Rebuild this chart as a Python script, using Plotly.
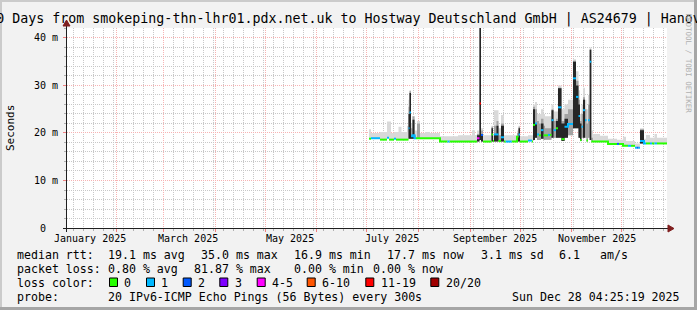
import plotly.graph_objects as go

# ---------------- data ----------------
title_text = "360 Days from smokeping-thn-lhr01.pdx.net.uk to Hostway Deutschland GmbH | AS24679 | Hanover"
x_start = "2025-01-02 04:25:19"
x_end = "2025-12-28 04:25:19"

times = [
    "2025-07-02 09:00", "2025-07-03 14:00", "2025-07-08 23:30", "2025-07-13 04:20", "2025-07-14 09:00",
    "2025-07-15 14:00", "2025-07-17 09:00", "2025-07-18 14:00", "2025-07-20 02:00", "2025-07-21 21:00",
    "2025-07-25 04:20", "2025-07-26 02:00", "2025-07-26 16:20", "2025-07-27 14:00", "2025-07-28 11:30",
    "2025-07-29 16:20", "2025-07-30 14:00", "2025-07-31 04:20", "2025-08-01 23:30", "2025-08-04 23:30",
    "2025-08-07 23:30", "2025-08-13 23:30", "2025-08-18 11:30", "2025-08-19 16:20", "2025-08-24 18:40",
    "2025-09-02 04:20", "2025-09-03 23:30", "2025-09-05 04:20", "2025-09-06 16:20", "2025-09-07 14:00",
    "2025-09-08 18:40", "2025-09-13 21:00", "2025-09-14 18:40", "2025-09-15 09:00", "2025-09-16 21:00",
    "2025-09-18 02:00", "2025-09-19 14:00", "2025-09-21 09:00", "2025-09-22 09:40", "2025-09-26 00:00",
    "2025-09-29 04:20", "2025-09-30 02:00", "2025-09-30 23:30", "2025-10-05 18:40", "2025-10-08 04:20",
    "2025-10-08 18:40", "2025-10-09 23:30", "2025-10-11 04:20", "2025-10-12 09:00", "2025-10-13 14:00",
    "2025-10-15 02:00", "2025-10-15 23:30", "2025-10-17 18:40", "2025-10-18 23:30", "2025-10-19 21:00",
    "2025-10-21 02:00", "2025-10-22 14:00", "2025-10-23 18:40", "2025-10-25 21:00", "2025-10-27 16:20",
    "2025-10-29 18:40", "2025-11-01 18:40", "2025-11-03 14:00", "2025-11-05 02:00", "2025-11-05 23:30",
    "2025-11-06 21:00", "2025-11-07 18:40", "2025-11-08 23:30", "2025-11-09 21:00", "2025-11-10 18:40",
    "2025-11-11 19:10", "2025-11-12 18:10", "2025-11-13 18:40", "2025-11-17 23:30", "2025-11-22 18:40",
    "2025-11-28 04:20", "2025-11-29 09:00", "2025-12-01 18:40", "2025-12-03 14:00", "2025-12-04 18:40",
    "2025-12-06 14:00", "2025-12-08 23:30", "2025-12-10 04:20", "2025-12-11 02:00", "2025-12-11 23:30",
    "2025-12-14 09:00", "2025-12-15 14:00", "2025-12-17 23:30", "2025-12-19 04:20", "2025-12-20 16:20",
    "2025-12-22 04:20",
]
median_ms = [
    18.8, 18.9, 18.6, 19.0, 18.6, 18.6, 18.8, 18.6, 18.6, 18.6,
    18.6, 21.0, 24.3, 19.3, 19.5, 18.9, 18.9, 18.9, 18.9, 18.9,
    18.9, 18.2, 18.2, 18.2, 18.2, 18.2, 18.2, 18.9, 26.2, 19.6,
    18.2, 19.7, 18.3, 19.7, 19.7, 18.3, 19.1, 18.2, 18.2, 18.2,
    19.2, 19.7, 18.2, 18.4, 18.2, 21.7, 22.0, 19.7, 19.5, 20.6,
    19.5, 19.5, 19.6, 19.6, 22.7, 20.6, 21.0, 25.4, 18.7, 21.3,
    21.9, 31.5, 27.6, 23.6, 18.5, 21.3, 24.8, 22.7, 18.4, 22.7,
    35.0, 18.2, 18.2, 18.2, 17.7, 17.7, 17.7, 17.3, 17.3, 17.3,
    17.3, 16.9, 16.9, 16.9, 18.3, 17.8, 17.8, 17.8, 17.8, 17.8,
    17.8,
]
# loss category index: 0 -> "0", 1 -> "1", 2 -> "2", 3 -> "3", 4 -> "4-5", 5 -> "6-10", 6 -> "11-19", 7 -> "20/20"
loss_cat = [
    0, 1, 0, 1, 0, 0, 1, 0, 0, 0,
    0, 1, 1, 1, 1, 1, 0, 0, 0, 0,
    0, 0, 1, 0, 0, 0, 0, 4, 6, 2,
    0, 0, 0, 1, 1, 0, 1, 0, 1, 0,
    0, 1, 0, 1, 0, 0, 1, 1, 0, 1,
    0, 0, 1, 0, 1, 1, 0, 1, 0, 1,
    1, 1, 1, 1, 0, 1, 1, 1, 0, 1,
    1, 0, 0, 0, 0, 2, 0, 0, 0, 1,
    0, 1, 2, 1, 1, 1, 0, 1, 0, 1,
    0,
]
# lowest ping of the smoke column
smoke_low_ms = [
    18.8, 18.9, 18.6, 19.0, 18.6, 18.6, 18.8, 18.6, 18.6, 18.6,
    18.6, 18.8, 18.8, 18.8, 18.8, 18.8, 18.9, 18.9, 18.9, 18.9,
    18.9, 18.2, 18.2, 18.2, 18.2, 18.2, 18.2, 18.2, 18.5, 18.2,
    18.2, 18.2, 18.3, 18.2, 18.2, 18.3, 18.2, 18.2, 18.2, 18.2,
    18.2, 18.2, 18.2, 18.4, 18.2, 18.5, 19.0, 18.5, 18.5, 18.8,
    18.5, 18.6, 18.6, 18.6, 19.0, 19.0, 19.0, 19.0, 18.3, 19.0,
    19.5, 21.0, 21.0, 19.0, 18.3, 19.0, 19.0, 19.0, 18.2, 19.0,
    18.5, 18.2, 18.2, 18.2, 17.7, 17.7, 17.7, 17.3, 17.3, 17.3,
    17.3, 16.9, 16.9, 16.9, 17.8, 17.8, 17.8, 17.8, 17.8, 17.8,
    17.8,
]
# highest ping of the smoke column (light grey)
smoke_top_ms = [
    20.8, 20.0, 20.2, 22.4, 22.4, 20.0, 20.2, 20.2, 21.3, 20.2,
    21.5, 27.0, 29.0, 22.0, 23.5, 20.5, 20.5, 22.5, 20.0, 20.2,
    20.0, 19.3, 19.3, 19.3, 19.5, 20.6, 19.6, 20.5, 42.5, 21.0,
    19.5, 21.5, 19.5, 24.8, 24.8, 21.0, 23.8, 19.5, 19.5, 19.5,
    20.5, 21.5, 19.3, 19.5, 19.5, 26.0, 26.5, 24.0, 24.0, 25.0,
    24.0, 23.5, 23.5, 23.5, 26.0, 24.5, 24.5, 30.0, 25.0, 26.0,
    27.0, 35.5, 33.0, 29.0, 24.0, 26.0, 29.5, 27.0, 25.0, 28.0,
    38.0, 20.5, 19.8, 19.4, 18.8, 18.6, 18.6, 19.2, 18.3, 18.3,
    18.3, 17.8, 17.8, 17.8, 21.0, 18.8, 19.6, 19.0, 19.0, 19.8,
    19.0,
]
# top of the medium-grey part of the smoke column
smoke_mid_ms = [
    18.8, 18.9, 18.6, 19.0, 18.6, 18.6, 18.8, 18.6, 18.6, 18.6,
    18.6, 25.5, 28.8, 21.0, 23.5, 19.5, 18.9, 22.0, 18.9, 18.9,
    18.9, 18.2, 18.2, 18.2, 18.2, 18.2, 18.2, 19.8, 42.5, 20.5,
    18.2, 21.3, 18.3, 21.5, 22.5, 19.5, 22.0, 18.2, 18.2, 18.2,
    20.0, 21.3, 18.2, 18.4, 18.2, 25.5, 25.0, 22.5, 22.0, 23.0,
    21.5, 21.0, 21.0, 21.0, 25.0, 22.5, 23.0, 29.5, 22.5, 24.0,
    25.0, 35.2, 31.0, 27.0, 22.5, 24.0, 27.5, 25.0, 22.0, 26.0,
    37.6, 19.0, 18.2, 18.2, 17.7, 17.7, 17.7, 17.3, 17.3, 17.3,
    17.3, 16.9, 16.9, 16.9, 20.8, 17.8, 17.8, 17.8, 17.8, 17.8,
    17.8,
]
# top of the dense (black) part of the smoke column
smoke_dense_ms = [
    18.8, 18.9, 18.6, 19.0, 18.6, 18.6, 18.8, 18.6, 18.6, 18.6,
    18.6, 24.0, 28.4, 19.3, 22.8, 18.9, 18.9, 18.9, 18.9, 18.9,
    18.9, 18.2, 18.2, 18.2, 18.2, 18.2, 18.2, 19.5, 42.5, 19.6,
    18.2, 21.0, 18.3, 19.7, 21.5, 18.3, 21.5, 18.2, 18.2, 18.2,
    19.2, 21.0, 18.2, 18.4, 18.2, 25.0, 22.0, 18.5, 18.5, 22.0,
    18.5, 18.6, 18.6, 18.6, 24.8, 19.0, 22.5, 29.4, 22.0, 23.0,
    19.5, 35.0, 30.0, 26.0, 22.0, 19.0, 27.0, 19.0, 18.2, 19.0,
    37.5, 18.2, 18.2, 18.2, 17.7, 17.7, 17.7, 17.3, 17.3, 17.3,
    17.3, 16.9, 16.9, 16.9, 20.6, 17.8, 17.8, 17.8, 17.8, 17.8,
    17.8,
]

loss_colors = ["#26ff00", "#00b8ff", "#0059ff", "#7e00ff", "#ff00ff", "#ff5500", "#ff0000", "#a10000"]
loss_labels = ["0", "1", "2", "3", "4-5", "6-10", "11-19", "20/20"]

month_grid = ["2025-02-01", "2025-03-01", "2025-04-01", "2025-05-01", "2025-06-01", "2025-07-01",
              "2025-08-01", "2025-09-01", "2025-10-01", "2025-11-01", "2025-12-01"]
month_label_dates = ["2025-01-16", "2025-03-16", "2025-05-16", "2025-07-16", "2025-09-16", "2025-11-16"]
month_labels = ["January 2025", "March 2025", "May 2025", "July 2025", "September 2025", "November 2025"]

y_major = [0, 10, 20, 30, 40]
y_major_text = ["0\u00a0\u00a0", "10 m", "20 m", "30 m", "40 m"]
y_minor = [2, 4, 6, 8, 12, 14, 16, 18, 22, 24, 26, 28, 32, 34, 36, 38, 42]
y_max = 42.1

rtt_stats = ["19.1 ms avg", "35.0 ms max", "16.9 ms min", "17.7 ms now", "3.1 ms sd", "6.1", "am/s"]
loss_stats = ["0.80 % avg", "81.87 % max", "0.00 % min", "0.00 % now"]
probe_text = "20 IPv6-ICMP Echo Pings (56 Bytes) every 300s"
stamp_text = "Sun Dec 28 04:25:19 2025"

# ---------------- layout helpers ----------------
W, H = 697, 310
ML, MR, MT, MB = 67, 30, 28, 82
PW, PH = W - ML - MR, H - MT - MB
MONO = "DejaVu Sans Mono"


def px(x):
    return (x - ML) / PW


def py(y):
    return (H - MB - y) / PH


fig = go.Figure()

t_all = times + [x_end]


def ext(a):
    return a + [a[-1]]


low_all = ext(smoke_low_ms)

# smoke layers: light, medium, dense
for top, colr in ((smoke_top_ms, "#d9d9d9"), (smoke_mid_ms, "#a3a3a3"), (smoke_dense_ms, "#262626")):
    fig.add_trace(go.Scatter(x=t_all, y=low_all, mode="lines", line=dict(width=0, shape="hv"),
                             hoverinfo="skip", showlegend=False))
    fig.add_trace(go.Scatter(x=t_all, y=ext(top), mode="lines", line=dict(width=0, shape="hv"),
                             fill="tonexty", fillcolor=colr, hoverinfo="skip", showlegend=False))

# median line coloured by loss (steps joined only inside a run of the same colour)
n = len(times)
for c, col in enumerate(loss_colors):
    xs, ys = [], []
    prev = None
    for k in range(n):
        if loss_cat[k] != c:
            continue
        if prev is None or prev != k - 1 or abs(median_ms[k] - median_ms[prev]) > 1.0:
            if xs:
                xs.append(None)
                ys.append(None)
        xs += [t_all[k], t_all[k + 1]]
        ys += [median_ms[k], median_ms[k]]
        prev = k
    if xs:
        fig.add_trace(go.Scatter(x=xs, y=ys, mode="lines", line=dict(color=col, width=2),
                                 hoverinfo="skip", showlegend=False, connectgaps=False))

shapes = []
# 3d frame
shapes.append(dict(type="rect", xref="paper", yref="paper", x0=px(0), x1=px(W), y0=py(0), y1=py(2),
                   fillcolor="#cbcbcb", line=dict(width=0), layer="above"))
shapes.append(dict(type="rect", xref="paper", yref="paper", x0=px(0), x1=px(2), y0=py(0), y1=py(H),
                   fillcolor="#cbcbcb", line=dict(width=0), layer="above"))
shapes.append(dict(type="rect", xref="paper", yref="paper", x0=px(W - 3), x1=px(W), y0=py(0), y1=py(H),
                   fillcolor="#a6a6a6", line=dict(width=0), layer="above"))
shapes.append(dict(type="rect", xref="paper", yref="paper", x0=px(0), x1=px(W), y0=py(H - 3), y1=py(H),
                   fillcolor="#a6a6a6", line=dict(width=0), layer="above"))
# axes with arrows
shapes.append(dict(type="line", xref="paper", yref="paper", x0=px(63), x1=px(670), y0=py(228.5), y1=py(228.5),
                   line=dict(color="#1f1f1f", width=1), layer="above"))
shapes.append(dict(type="line", xref="paper", yref="paper", x0=px(66.5), x1=px(66.5), y0=py(232), y1=py(25),
                   line=dict(color="#1f1f1f", width=1), layer="above"))
shapes.append(dict(type="path", xref="paper", yref="paper",
                   path=f"M {px(668)} {py(225)} L {px(674)} {py(228.5)} L {px(668)} {py(232)} Z",
                   fillcolor="#801f1f", line=dict(color="#801f1f", width=1), layer="above"))
shapes.append(dict(type="path", xref="paper", yref="paper",
                   path=f"M {px(63)} {py(26)} L {px(66.5)} {py(20)} L {px(70)} {py(26)} Z",
                   fillcolor="#801f1f", line=dict(color="#801f1f", width=1), layer="above"))

annotations = []
# month labels
for d, lab in zip(month_label_dates, month_labels):
    annotations.append(dict(x=d, xref="x", y=py(238), yref="paper", text=lab, showarrow=False,
                            xanchor="center", yanchor="middle", font=dict(family=MONO, size=10, color="#000"),
                            borderpad=0))
# y title
annotations.append(dict(x=px(10.5), y=py(128.5), xref="paper", yref="paper", text="Seconds", textangle=-90,
                        xanchor="center", yanchor="middle",
                        showarrow=False, font=dict(family=MONO, size=11, color="#000"), borderpad=0))
# watermark
annotations.append(dict(x=px(688.5), y=py(63), xref="paper", yref="paper", text="RRDTOOL / TOBI OETIKER",
                        textangle=90, xanchor="center", yanchor="middle",
                        showarrow=False, font=dict(family=MONO, size=7.5, color="#b0b0b0"),
                        borderpad=0))


def txt(x, y, s, anchor="left"):
    annotations.append(dict(x=px(x), y=py(y), xref="paper", yref="paper", text=s, showarrow=False,
                            xanchor=anchor, yanchor="middle", borderpad=0,
                            font=dict(family=MONO, size=11.6, color="#000")))


rows = [254.5, 268.5, 282.5, 296.5]
txt(16, rows[0], "median rtt:")
for s, x in zip(rtt_stats, [107.3, 200, 293.3, 386.3, 479.7, 557.7, 599.3]):
    txt(x, rows[0], s)
txt(16, rows[1], "packet loss:")
for s, x in zip(loss_stats, [107.3, 193.3, 293.3, 372]):
    txt(x, rows[1], s)
txt(16, rows[2], "loss color:")
box_x = [109, 146, 182.7, 219.3, 256.7, 306.7, 365.3, 430.3]
for bx, col, lab in zip(box_x, loss_colors, loss_labels):
    shapes.append(dict(type="rect", xref="paper", yref="paper", x0=px(bx + 0.5), x1=px(bx + 8.5),
                       y0=py(278), y1=py(286.5), fillcolor=col, line=dict(color="#000", width=1), layer="above"))
    txt(bx + 14.3, rows[2], lab)
txt(16, rows[3], "probe:")
txt(107.3, rows[3], probe_text)
txt(680.5, rows[3], stamp_text, anchor="right")

fig.update_layout(
    width=W, height=H, autosize=False,
    margin=dict(l=ML, r=MR, t=MT, b=MB, pad=0),
    paper_bgcolor="#f2f2f2", plot_bgcolor="#ffffff",
    title=dict(text=title_text, x=0.5, xref="container", xanchor="center",
               y=1 - 18 / H, yref="container", yanchor="middle",
               font=dict(family=MONO, size=13.3, color="#000")),
    xaxis=dict(type="date", range=[x_start, x_end], tickmode="array", tickvals=month_grid,
               showticklabels=False, showgrid=True, gridcolor="#f7b3b3", griddash="1px,1px", gridwidth=1,
               ticks="outside", ticklen=3, tickcolor="#f08080", zeroline=False, showline=False,
               automargin=False, fixedrange=True,
               minor=dict(dtick=6 * 86400000, tick0="2025-01-06", showgrid=True, gridcolor="#c8c8c8",
                          griddash="1px,1px", ticks="outside", ticklen=2, tickcolor="#b0b0b0")),
    yaxis=dict(range=[0, y_max], tickmode="array", tickvals=y_major, ticktext=y_major_text,
               showgrid=True, gridcolor="#f7b3b3", griddash="1px,1px", zeroline=False, showline=False,
               ticks="outside", ticklen=3, tickcolor="#f08080", automargin=False, fixedrange=True,
               tickfont=dict(family=MONO, size=10, color="#000"), ticklabelstandoff=3,
               minor=dict(tickmode="array", tickvals=y_minor, showgrid=True, gridcolor="#c8c8c8",
                          griddash="1px,1px", ticks="outside", ticklen=2, tickcolor="#b0b0b0")),
    shapes=shapes,
    annotations=annotations,
    showlegend=False,
)

fig.write_html("out.html")
